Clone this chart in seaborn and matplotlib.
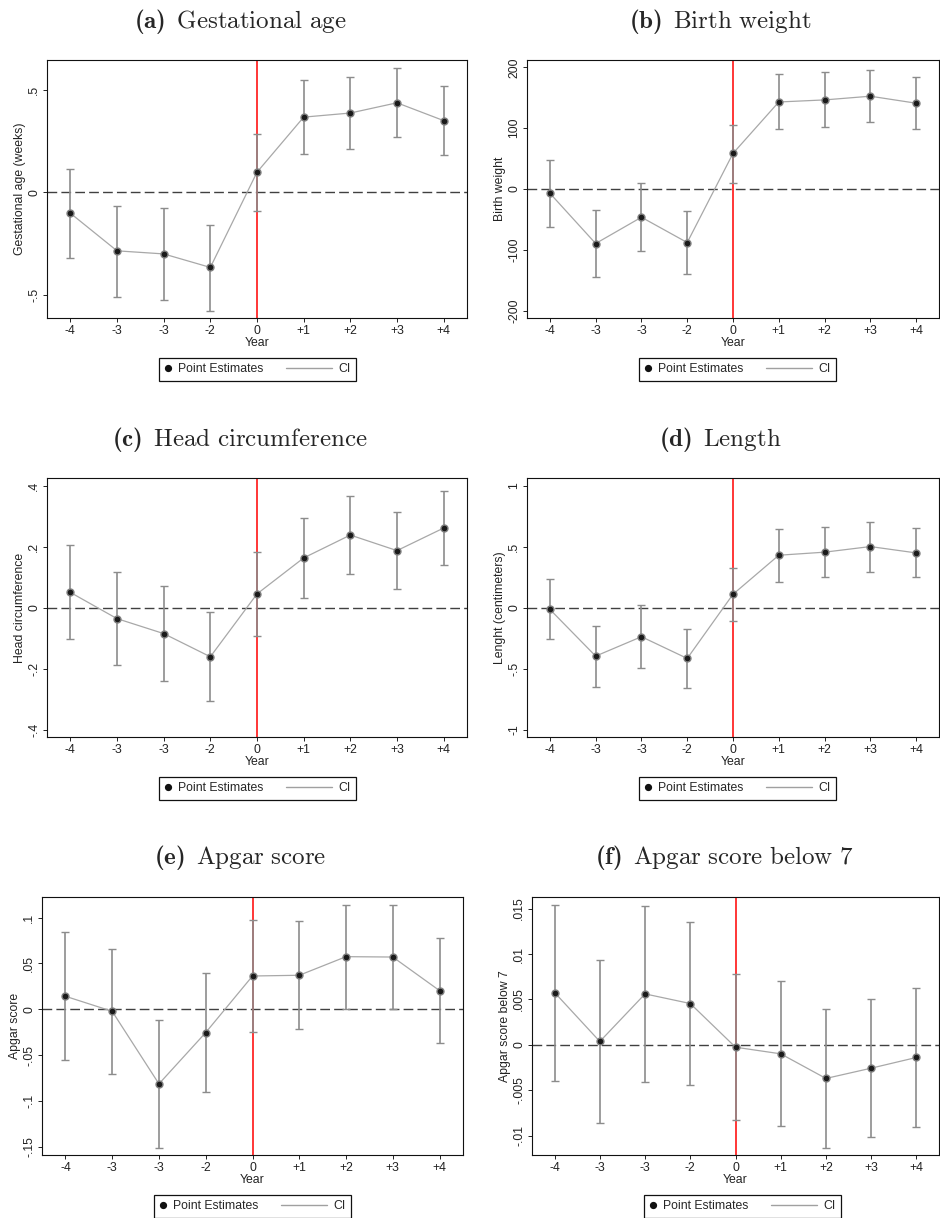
import numpy as np
import pandas as pd
import matplotlib as mpl
import matplotlib.pyplot as plt
import seaborn as sns
from matplotlib.lines import Line2D
from matplotlib.legend_handler import HandlerLine2D

#### Event-study estimates by year relative to reform, six birth outcomes

year_labels = ['-4', '-3', '-3', '-2', '0', '+1', '+2', '+3', '+4']

ga_est = [-0.102, -0.286, -0.301, -0.367, 0.098, 0.367, 0.387, 0.437, 0.350]
ga_lo = [-0.322, -0.509, -0.525, -0.579, -0.091, 0.189, 0.211, 0.268, 0.180]
ga_hi = [0.114, -0.065, -0.075, -0.158, 0.285, 0.546, 0.563, 0.608, 0.519]

bw_est = [-7.0, -89.6, -46.4, -88.0, 58.5, 143.0, 146.4, 152.5, 141.0]
bw_lo = [-62.0, -145.0, -101.6, -139.0, 10.4, 98.0, 101.6, 109.3, 97.8]
bw_hi = [47.5, -34.0, 9.3, -36.0, 105.5, 189.0, 191.8, 196.0, 184.7]

hc_est = [0.050, -0.036, -0.085, -0.161, 0.045, 0.163, 0.238, 0.187, 0.261]
hc_lo = [-0.104, -0.187, -0.241, -0.307, -0.092, 0.032, 0.111, 0.062, 0.140]
hc_hi = [0.206, 0.116, 0.071, -0.015, 0.182, 0.295, 0.366, 0.312, 0.384]

len_est = [-0.014, -0.397, -0.238, -0.416, 0.110, 0.430, 0.455, 0.501, 0.449]
len_lo = [-0.260, -0.652, -0.493, -0.658, -0.112, 0.214, 0.249, 0.296, 0.249]
len_hi = [0.233, -0.148, 0.019, -0.175, 0.329, 0.644, 0.663, 0.704, 0.652]

ap_est = [0.0142, -0.0022, -0.0814, -0.0254, 0.0363, 0.0371, 0.0574, 0.0570, 0.0203]
ap_lo = [-0.0556, -0.0701, -0.1512, -0.0905, -0.0243, -0.0218, 0.0004, 0.0004, -0.0371]
ap_hi = [0.0839, 0.0658, -0.0116, 0.0392, 0.0974, 0.0967, 0.1137, 0.1134, 0.0781]

ap7_est = [0.00576, 0.00037, 0.00561, 0.00455, -0.00026, -0.00099, -0.00370, -0.00257, -0.00139]
ap7_lo = [-0.00396, -0.00865, -0.00411, -0.00447, -0.00828, -0.00895, -0.01133, -0.01015, -0.00902]
ap7_hi = [0.01540, 0.00931, 0.01529, 0.01353, 0.00781, 0.00700, 0.00392, 0.00502, 0.00627]

#### Style
sns.set_theme(style='ticks')
plt.rcParams['font.family'] = ['Liberation Sans', 'DejaVu Sans']
plt.rcParams['mathtext.fontset'] = 'custom'
plt.rcParams['mathtext.rm'] = 'cmr10'
plt.rcParams['mathtext.bf'] = 'cmb10'
plt.rcParams['mathtext.it'] = 'cmmi10'
plt.rcParams['font.size'] = 8.8
plt.rcParams['axes.labelsize'] = 8.8
plt.rcParams['axes.linewidth'] = 0.8
plt.rcParams['xtick.major.size'] = 3
plt.rcParams['ytick.major.size'] = 3
plt.rcParams['xtick.major.width'] = 0.7
plt.rcParams['ytick.major.width'] = 0.7

W, H = 940, 1218
fig = plt.figure(figsize=(W / 100, H / 100), dpi=100)


class LongLine(HandlerLine2D):
    # CI legend line reaches left into the column gap, as in the Stata legend
    def create_artists(self, legend, orig_handle, xdescent, ydescent, width, height, fontsize, trans):
        arts = super().create_artists(legend, orig_handle, xdescent, ydescent, width, height, fontsize, trans)
        for a in arts:
            x = a.get_xdata()
            a.set_xdata(np.linspace(x[0] - 3.2 * fontsize, x[-1], len(x)))
        return arts


def panel(rect, title, title_xy, legend_xy, est, lo, hi, ylim, yticks, yticklabels, ylabel):
    L, T, R, B = rect
    ax = fig.add_axes([L / W, 1 - B / H, (R - L) / W, (B - T) / H])
    df = pd.DataFrame({'pos': np.arange(len(year_labels)), 'est': est, 'lo': lo, 'hi': hi})

    ax.axhline(0, color='#404040', lw=1.0, ls=(0, (7, 3)), zorder=1)
    ax.axvline(4, color='#ff0000', lw=1.1, zorder=2)
    ax.errorbar(df['pos'], df['est'], yerr=[df['est'] - df['lo'], df['hi'] - df['est']],
                fmt='none', ecolor='#8c8c8c', elinewidth=1.2, capsize=2.6, capthick=1.0, zorder=3)
    sns.lineplot(data=df, x='pos', y='est', ax=ax, color='#a8a8a8', lw=0.9, zorder=4,
                 marker='o', markersize=5, markerfacecolor='#1a1a1a', markeredgecolor='#808080',
                 markeredgewidth=1.0)

    ax.set_xlim(-0.5, 8.5)
    ax.set_ylim(*ylim)
    ax.set_xticks(df['pos'])
    ax.set_xticklabels(year_labels, color='#222222')
    ax.set_yticks(yticks)
    ax.set_yticklabels(yticklabels, rotation=90, va='center', color='#222222')
    ax.set_xlabel('Year', labelpad=0, color='#222222', fontsize=8.8)
    ax.set_ylabel(ylabel, labelpad=1.5, color='#222222', fontsize=8.8)
    ax.tick_params(axis='both', labelsize=8.8, pad=2, color='#222222')
    for s in ax.spines.values():
        s.set_color('#111111')
        s.set_visible(True)

    fig.text(title_xy[0] / W, 1 - title_xy[1] / H, title, ha='center', va='center', fontsize=18)

    h_pt = Line2D([], [], ls='none', marker='o', markersize=4.2, color='#111111')
    h_ci = Line2D([], [], color='#a0a0a0', lw=1.0)
    leg = ax.legend([h_pt, h_ci], ['Point Estimates', 'CI'], ncol=2, loc='center',
                    bbox_to_anchor=(legend_xy[0] / W, 1 - legend_xy[1] / H),
                    bbox_transform=fig.transFigure, frameon=True, fancybox=False,
                    edgecolor='#111111', framealpha=1, fontsize=8.8, handlelength=0.6,
                    handletextpad=0.5, columnspacing=5.05, borderpad=0.45, borderaxespad=0,
                    handler_map={h_ci: LongLine()})
    leg.get_frame().set_linewidth(0.9)
    return ax


panel((47, 60, 467, 318), r'$\mathbf{(a)}\ \,\mathrm{Gestational\ age}$', (240, 22), (257.5, 369.5),
      ga_est, ga_lo, ga_hi, (-0.614, 0.646), [-0.5, 0, 0.5], ['-.5', '0', '.5'],
      'Gestational age (weeks)')
panel((527, 60, 939, 318), r'$\mathbf{(b)}\ \,\mathrm{Birth\ weight}$', (720, 22), (737.5, 369.5),
      bw_est, bw_lo, bw_hi, (-212, 212), [-200, -100, 0, 100, 200],
      ['-200', '-100', '0', '100', '200'], 'Birth weight')
panel((47, 478, 467, 737), r'$\mathbf{(c)}\ \,\mathrm{Head\ circumference}$', (240, 440), (257.5, 788),
      hc_est, hc_lo, hc_hi, (-0.424, 0.425), [-0.4, -0.2, 0, 0.2, 0.4],
      ['-.4', '-.2', '0', '.2', '.4'], 'Head circumference')
panel((527, 478, 939, 737), r'$\mathbf{(d)}\ \,\mathrm{Length}$', (720, 440), (737.5, 788),
      len_est, len_lo, len_hi, (-1.06, 1.063), [-1, -0.5, 0, 0.5, 1],
      ['-1', '-.5', '0', '.5', '1'], 'Lenght (centimeters)')
panel((42, 897, 463, 1155), r'$\mathbf{(e)}\ \,\mathrm{Apgar\ score}$', (240, 858), (252.5, 1206),
      ap_est, ap_lo, ap_hi, (-0.159, 0.1225), [-0.15, -0.1, -0.05, 0, 0.05, 0.1],
      ['-.15', '-.1', '-.05', '0', '.05', '.1'], 'Apgar score')
panel((532, 897, 939, 1155), r'$\mathbf{(f)}\ \,\mathrm{Apgar\ score\ below\ 7}$', (724, 858), (742.5, 1206),
      ap7_est, ap7_lo, ap7_hi, (-0.01213, 0.01628), [-0.01, -0.005, 0, 0.005, 0.01, 0.015],
      ['-.01', '-.005', '0', '.005', '.01', '.015'], 'Apgar score below 7')

fig.savefig('out.png', dpi=100, facecolor='white')
